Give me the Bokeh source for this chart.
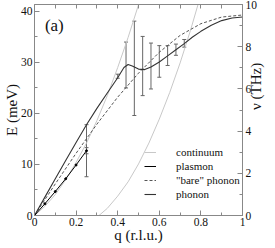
import math
from bokeh.plotting import figure
from bokeh.models import (Range1d, LinearAxis, FixedTicker, PrintfTickFormatter,
                          Legend, LegendItem, Label, Whisker, ColumnDataSource, TeeHead)
from bokeh.embed import file_html
from bokeh.resources import INLINE

# ---------------- data ----------------
E_MAX = 41.36          # 10 THz expressed in meV (top of the frame)
THZ_MAX = 10

phonon_q = [0, 0.05, 0.10, 0.15, 0.20, 0.25, 0.30, 0.35, 0.40, 0.43, 0.45, 0.47,
            0.50, 0.53, 0.56, 0.60, 0.64, 0.68, 0.72, 0.76, 0.80, 0.85, 0.90, 0.95, 1.00]
phonon_E = [0, 3.6, 7.2, 10.8, 14.3, 17.8, 21.0, 24.0, 27.0, 29.0, 29.6, 29.3,
            28.7, 28.6, 29.1, 30.1, 31.3, 32.5, 33.7, 35.0, 36.1, 37.3, 38.2, 38.7, 38.9]

bare_q = [0, 0.1, 0.2, 0.3, 0.4, 0.5, 0.6, 0.7, 0.8, 0.9, 1.0]
bare_E = [0, 6.2, 12.2, 17.9, 23.2, 27.9, 32.0, 35.3, 37.6, 38.9, 39.3]

plasmon_q = [0, 0.05, 0.10, 0.15, 0.20, 0.25]
plasmon_E = [0, 2.3, 4.7, 7.2, 9.9, 12.7]

cont_hi_q = [0, 0.05, 0.10, 0.15, 0.20, 0.25, 0.30, 0.35, 0.40, 0.45, 0.50, 0.52]
cont_hi_E = [0, 1.8, 4.1, 7.0, 10.4, 14.2, 18.6, 23.5, 29.0, 34.9, 41.3, 44.0]
cont_lo_q = [0.31, 0.35, 0.40, 0.45, 0.50, 0.55, 0.60, 0.65, 0.70, 0.75, 0.80]
cont_lo_E = [0, 1.4, 3.8, 6.6, 10.1, 14.2, 18.9, 24.1, 29.9, 36.3, 43.3]

err_q  = [0.25, 0.25, 0.40, 0.44, 0.48, 0.52, 0.56, 0.60, 0.64, 0.68, 0.72]
err_lo = [7.6, 12.1, 26.9, 25.0, 19.6, 23.5, 24.8, 27.1, 29.4, 31.4, 33.0]
err_hi = [17.8, 13.3, 27.7, 34.0, 38.1, 35.1, 33.8, 33.3, 33.3, 33.6, 34.5]

x_ticks = [0, 0.2, 0.4, 0.6, 0.8, 1.0]
x_tick_labels = ["0", "0.2", "0.4", "0.6", "0.8", "1"]
x_minor = [0.1, 0.3, 0.5, 0.7, 0.9]
top_ticks = [0.1, 0.2, 0.3, 0.4, 0.5, 0.6, 0.7, 0.8, 0.9]
y_ticks = [0, 10, 20, 30, 40]
y_tick_labels = ["0", "10", "20", "30", "40"]
y_minor = [5, 15, 25, 35]
r_ticks = [0, 2, 4, 6, 8, 10]
r_tick_labels = ["0", "2", "4", "6", "8", "10"]
r_minor = [1, 3, 5, 7, 9]

legend_labels = ["continuum", "plasmon", "\"bare\" phonon", "phonon"]
x_title = "q (r.l.u.)"
y_title = "E (meV)"
r_title = "\u03bd (THz)"
panel_tag = "(a)"

# ---------------- layout / style ----------------
FONT = "Liberation Serif"
AX = "#888888"
TXT = "#111111"

p = figure(width=275, height=248, x_range=Range1d(0, 1), y_range=Range1d(0, E_MAX),
           output_backend="svg", toolbar_location=None,
           min_border_left=32, min_border_right=32, min_border_top=4, min_border_bottom=33)
p.extra_y_ranges = {"thz": Range1d(0, THZ_MAX)}
p.grid.visible = False
p.outline_line_color = AX
p.background_fill_color = "white"
p.border_fill_color = "white"


def style_axis(ax, ticks, minor, labels, title=None, title_standoff=0):
    ax.ticker = FixedTicker(ticks=ticks, minor_ticks=minor)
    ax.formatter = PrintfTickFormatter(format="%g")
    if labels:
        ax.major_label_overrides = {t: l for t, l in zip(ticks, labels)}
    ax.axis_line_color = AX
    ax.major_tick_line_color = AX
    ax.minor_tick_line_color = AX
    ax.major_tick_in = 5
    ax.major_tick_out = 0
    ax.minor_tick_in = 3
    ax.minor_tick_out = 0
    ax.major_label_text_font = FONT
    ax.major_label_text_font_size = "11.5px"
    ax.major_label_text_color = TXT
    ax.major_label_standoff = 3
    if title:
        ax.axis_label = title
        ax.axis_label_text_font = FONT
        ax.axis_label_text_font_size = "15px"
        ax.axis_label_text_font_style = "normal"
        ax.axis_label_text_color = TXT
        ax.axis_label_standoff = title_standoff


style_axis(p.xaxis[0], x_ticks, x_minor, x_tick_labels, x_title, -2)
p.xaxis[0].major_label_standoff = 2
style_axis(p.yaxis[0], y_ticks, y_minor, y_tick_labels, y_title, -2)
p.yaxis[0].major_label_standoff = 2

right = LinearAxis(y_range_name="thz")
style_axis(right, r_ticks, r_minor, r_tick_labels, r_title, -4)
right.axis_label_orientation = math.pi / 2
p.add_layout(right, "right")

top = LinearAxis()
style_axis(top, [], top_ticks, None)
top.minor_tick_in = 4
p.add_layout(top, "above")

# ---------------- marks ----------------
r_cont = p.multi_line(xs=[cont_hi_q, cont_lo_q], ys=[cont_hi_E, cont_lo_E],
                      line_color="#c8c8c8", line_width=1)
r_bare = p.line(bare_q, bare_E, line_color="#555555", line_width=1, line_dash="3 2")
r_phon = p.line(phonon_q, phonon_E, line_color="#333333", line_width=1.1)
r_plas = p.line(plasmon_q, plasmon_E, line_color="#000000", line_width=1)
r_plas_pts = p.scatter(plasmon_q, plasmon_E, size=2, marker="circle",
                       line_color="#000000", fill_color="#000000")

err_src = ColumnDataSource(dict(q=err_q, lo=err_lo, hi=err_hi))
p.add_layout(Whisker(source=err_src, base="q", lower="lo", upper="hi",
                     line_color="#666666", line_width=1,
                     lower_head=TeeHead(size=4, line_color="#666666", line_width=1),
                     upper_head=TeeHead(size=4, line_color="#666666", line_width=1)))

p.add_layout(Label(x=0.05, y=37.2, text=panel_tag, text_font=FONT, text_font_size="17px",
                   text_baseline="middle", text_color=TXT))

legend = Legend(items=[LegendItem(label=legend_labels[0], renderers=[r_cont]),
                       LegendItem(label=legend_labels[1], renderers=[r_plas]),
                       LegendItem(label=legend_labels[2], renderers=[r_bare]),
                       LegendItem(label=legend_labels[3], renderers=[r_phon])],
                location=(110, 15), border_line_alpha=0, background_fill_alpha=0,
                label_text_font=FONT, label_text_font_size="11px", label_text_color=TXT,
                glyph_width=12, glyph_height=10, label_height=10, label_standoff=20,
                spacing=2, padding=0, margin=0)
p.add_layout(legend)

open("out.html", "w").write(file_html(p, INLINE))
